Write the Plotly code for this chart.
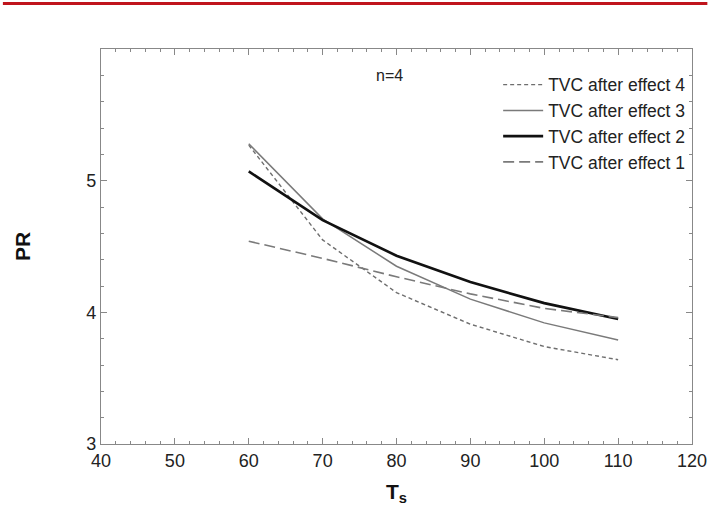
import plotly.graph_objects as go

ts = [60, 70, 80, 90, 100, 110]
effect4 = [5.27, 4.55, 4.15, 3.91, 3.74, 3.64]
effect3 = [5.28, 4.71, 4.35, 4.10, 3.92, 3.79]
effect2 = [5.07, 4.70, 4.43, 4.23, 4.07, 3.95]
effect1 = [4.54, 4.41, 4.27, 4.14, 4.03, 3.96]

names = ["TVC after effect 4", "TVC after effect 3", "TVC after effect 2", "TVC after effect 1"]

fig = go.Figure()
styles = [
    (effect4, dict(color="#6e6e6e", width=1.4, dash="4px,3px")),
    (effect3, dict(color="#7a7a7a", width=1.5, dash="solid")),
    (effect2, dict(color="#111111", width=2.6, dash="solid")),
    (effect1, dict(color="#7a7a7a", width=1.6, dash="11px,5px")),
]
for i, (vals, ln) in enumerate(styles):
    fig.add_trace(go.Scatter(x=ts, y=vals, mode="lines", name=names[i], line=ln,
                             legendgroup=f"g{i}"))

axis_common = dict(
    showline=True, linecolor="#888888", linewidth=1.2, mirror="ticks",
    ticks="inside", ticklen=6, tickwidth=1, tickcolor="#888888",
    showgrid=False, zeroline=False,
    tickfont=dict(family="Liberation Sans, Arial", size=18, color="#222222"),
)

fig.update_xaxes(range=[40, 120], tickmode="linear", tick0=40, dtick=10,
                 minor=dict(dtick=2, tick0=40, ticks="inside", ticklen=3, tickwidth=1,
                            tickcolor="#888888", showgrid=False),
                 title=dict(text="<b>T<sub>s</sub></b>", font=dict(family="Liberation Sans, Arial", size=21, color="#111"), standoff=14),
                 **axis_common)
fig.update_yaxes(range=[3, 6], tickmode="linear", tick0=3, dtick=1, labelalias={"6": ""},
                 minor=dict(dtick=0.2, tick0=3, ticks="inside", ticklen=3, tickwidth=1,
                            tickcolor="#888888", showgrid=False),
                 title=dict(text="<b>PR</b>", font=dict(family="Liberation Sans, Arial", size=21, color="#111"), standoff=49),
                 **axis_common)

fig.add_annotation(x=79.0, y=5.795, text="n=4", showarrow=False,
                   font=dict(family="Liberation Sans, Arial", size=16, color="#222"))

fig.add_shape(type="line", xref="paper", yref="paper", x0=-0.166, x1=1.026, y0=1.115, y1=1.115,
              line=dict(color="#c0141c", width=3))

fig.update_layout(
    width=719, height=511,
    margin=dict(l=101, r=17, t=49, b=63),
    paper_bgcolor="white", plot_bgcolor="white",
    showlegend=True,
    legend=dict(x=0.672, y=0.955, xanchor="left", yanchor="top", bgcolor="rgba(0,0,0,0)",
                font=dict(family="Liberation Sans, Arial", size=17.5, color="#222"),
                tracegroupgap=0, itemwidth=40),
)

fig.write_html(
    "out.html",
    config={"displayModeBar": False},
    post_script="document.body.style.margin='0';",
)
